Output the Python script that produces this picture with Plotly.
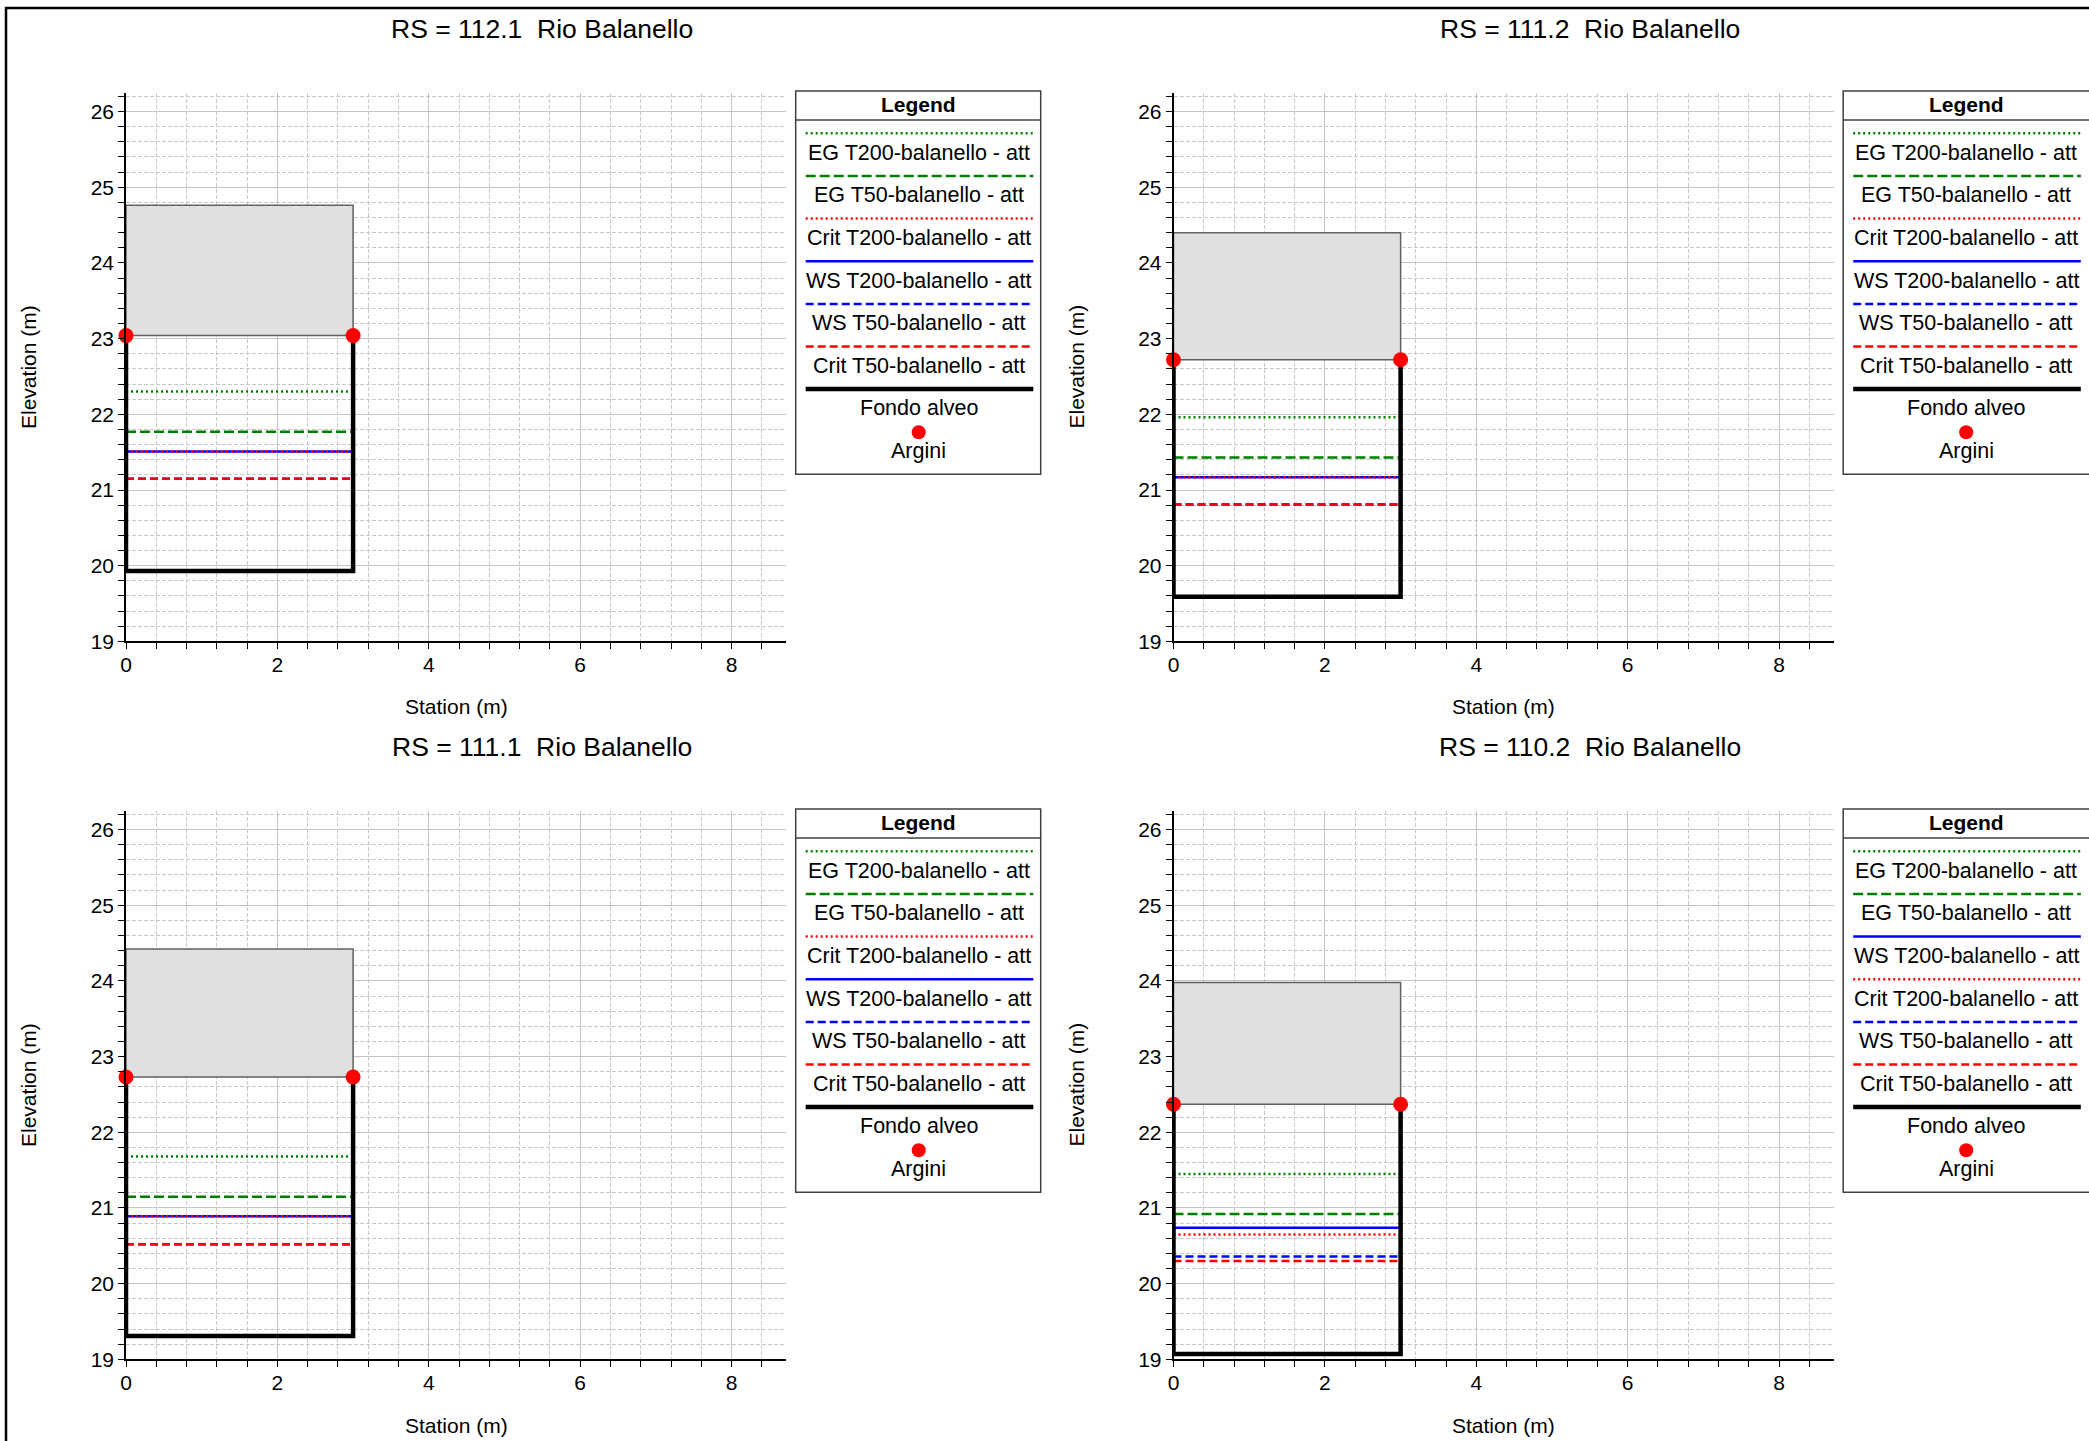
import plotly.graph_objects as go

W, H = 2089, 1441
FONT = "Liberation Sans, Arial, sans-serif"

# ---------------- data ----------------
sections = ["112.1", "111.2", "111.1", "110.2"]
river = "Rio Balanello"
station_left = [0, 0, 0, 0]
station_right = [3, 3, 3, 3]
bed = [19.93, 19.59, 19.31, 19.07]          # Fondo alveo
banks = [23.04, 22.72, 22.73, 22.37]        # Argini
deck_top = [24.76, 24.40, 24.42, 23.98]     # bridge deck top
eg_t200 = [22.30, 21.96, 21.68, 21.45]
eg_t50 = [21.77, 21.43, 21.15, 20.92]
crit_t200 = [21.51, 21.17, 20.89, 20.65]
ws_t200 = [21.51, 21.17, 20.89, 20.74]
ws_t50 = [21.15, 20.81, 20.52, 20.36]
crit_t50 = [21.15, 20.81, 20.52, 20.30]
x_range = [0, 8.72]
y_range = [19, 26.25]
x_label = "Station (m)"
y_label = "Elevation (m)"

profiles = {
    "EG T200-balanello - att": eg_t200,
    "EG T50-balanello - att": eg_t50,
    "WS T200-balanello - att": ws_t200,
    "Crit T200-balanello - att": crit_t200,
    "WS T50-balanello - att": ws_t50,
    "Crit T50-balanello - att": crit_t50,
}
legend_orders = [
    ["EG T200-balanello - att", "EG T50-balanello - att", "Crit T200-balanello - att",
     "WS T200-balanello - att", "WS T50-balanello - att", "Crit T50-balanello - att"],
] * 3 + [
    ["EG T200-balanello - att", "EG T50-balanello - att", "WS T200-balanello - att",
     "Crit T200-balanello - att", "WS T50-balanello - att", "Crit T50-balanello - att"],
]

# ---------------- styles ----------------
styles = {
    "EG T200-balanello - att": dict(color="#008000", dash="2px,3px", width=2.5),
    "EG T50-balanello - att": dict(color="#008000", dash="10px,4px", width=2.5),
    "WS T200-balanello - att": dict(color="#0000ff", dash="solid", width=2.5),
    "Crit T200-balanello - att": dict(color="#ff0000", dash="2px,3px", width=2.5),
    "WS T50-balanello - att": dict(color="#0000ff", dash="8px,4px", width=2.5),
    "Crit T50-balanello - att": dict(color="#ff0000", dash="8px,4px", width=2.5),
}

S = 75.7  # pixels per unit
panel_x0 = [126, 1173.5, 126, 1173.5]
panel_y19 = [641.4, 641.4, 1359.4, 1359.4]


def px(x):
    return x / W


def py(y):
    return 1 - y / H


fig = go.Figure()
shapes = []
annotations = []
layout = {}

for i in range(4):
    ax = "" if i == 0 else str(i + 1)
    xa, ya = "x" + ax, "y" + ax
    x0 = panel_x0[i]
    y19 = panel_y19[i]
    xl, xr = station_left[i], station_right[i]

    layout["xaxis" + ax] = dict(
        domain=[px(x0), px(x0 + (x_range[1] - x_range[0]) * S)],
        range=x_range, anchor=ya, tick0=0, dtick=2, automargin=False,
        ticks="outside", ticklen=6, tickwidth=1, tickcolor="black",
        showline=True, linecolor="black", linewidth=1.5,
        showgrid=True, gridcolor="#c4c4c4", gridwidth=1, zeroline=False,
        tickfont=dict(size=21, color="black", family=FONT),
        ticklabelstandoff=-2,
        minor=dict(dtick=0.4, tick0=0, ticks="outside", ticklen=6, tickcolor="black",
                   showgrid=True, gridcolor="#c8c8c8", griddash="4px,2px", gridwidth=1),
        fixedrange=True,
    )
    layout["yaxis" + ax] = dict(
        domain=[py(y19), py(y19 - (y_range[1] - y_range[0]) * S)],
        range=y_range, anchor=xa, tick0=19, dtick=1, automargin=False,
        ticks="outside", ticklen=6, tickwidth=1, tickcolor="black",
        showline=True, linecolor="black", linewidth=1.5,
        showgrid=True, gridcolor="#c4c4c4", gridwidth=1, zeroline=False,
        tickfont=dict(size=21, color="black", family=FONT),
        minor=dict(dtick=0.2, tick0=19, ticks="outside", ticklen=6, tickcolor="black",
                   showgrid=True, gridcolor="#c8c8c8", griddash="4px,2px", gridwidth=1),
        fixedrange=True,
    )

    # bridge deck
    fig.add_trace(go.Scatter(
        x=[xl, xr, xr, xl, xl], y=[banks[i], banks[i], deck_top[i], deck_top[i], banks[i]],
        mode="lines", fill="toself", fillcolor="#e0e0e0",
        line=dict(color="#606060", width=1.5), xaxis=xa, yaxis=ya,
        showlegend=False, hoverinfo="skip", cliponaxis=False))

    # water surfaces
    for name, vals in profiles.items():
        st = styles[name]
        fig.add_trace(go.Scatter(
            x=[xl, xr], y=[vals[i], vals[i]], mode="lines", name=name,
            line=dict(color=st["color"], dash=st["dash"], width=st["width"]),
            xaxis=xa, yaxis=ya, showlegend=False, cliponaxis=False))

    # channel bed
    fig.add_trace(go.Scatter(
        x=[xl, xl, xr, xr], y=[banks[i], bed[i], bed[i], banks[i]], mode="lines",
        name="Fondo alveo", line=dict(color="black", width=4.5),
        xaxis=xa, yaxis=ya, showlegend=False, cliponaxis=False))

    # banks
    fig.add_trace(go.Scatter(
        x=[xl, xr], y=[banks[i], banks[i]], mode="markers", name="Argini",
        marker=dict(color="#ff0000", size=15), xaxis=xa, yaxis=ya,
        showlegend=False, cliponaxis=False))

    # titles
    col, row = i % 2, i // 2
    annotations.append(dict(
        x=px(542 + col * 1047.5), y=py(29 + row * 718.3), xref="paper", yref="paper",
        text=f"RS = {sections[i]}  {river}", showarrow=False,
        xanchor="center", yanchor="middle", font=dict(size=26.5, color="black", family=FONT)))
    annotations.append(dict(
        x=px(x0 + (x_range[1] - x_range[0]) * S / 2), y=py(y19 + 65.6), xref="paper", yref="paper",
        text=x_label, showarrow=False, xanchor="center", yanchor="middle",
        font=dict(size=21, color="black", family=FONT)))
    annotations.append(dict(
        x=px(x0 - 97), y=py(y19 - (y_range[1] - y_range[0]) * S / 2), xref="paper", yref="paper",
        text=y_label, showarrow=False, xanchor="center", yanchor="middle", textangle=-90,
        font=dict(size=21, color="black", family=FONT)))

    # custom legend box
    L = x0 + 669.7
    T = y19 - 550.4
    Wd = 245 if col == 0 else 250
    shapes.append(dict(type="rect", xref="paper", yref="paper",
                       x0=px(L), x1=px(L + Wd), y0=py(T), y1=py(T + 383.3),
                       line=dict(color="#404040", width=1.5), fillcolor="white", layer="above"))
    shapes.append(dict(type="line", xref="paper", yref="paper",
                       x0=px(L), x1=px(L + Wd), y0=py(T + 29), y1=py(T + 29),
                       line=dict(color="#404040", width=1.5), layer="above"))
    cx = L + 123
    annotations.append(dict(x=px(cx), y=py(T + 13.5), xref="paper", yref="paper",
                            text="<b>Legend</b>", showarrow=False, xanchor="center", yanchor="middle",
                            font=dict(size=21, color="black", family=FONT)))
    for k, name in enumerate(legend_orders[i]):
        st = styles[name]
        ly = T + 42.3 + 42.65 * k
        shapes.append(dict(type="line", xref="paper", yref="paper",
                           x0=px(L + 10), x1=px(L + 237.6), y0=py(ly), y1=py(ly),
                           line=dict(color=st["color"], dash=st["dash"], width=st["width"]),
                           layer="above"))
        annotations.append(dict(x=px(cx), y=py(ly + 19.3), xref="paper", yref="paper",
                                text=name, showarrow=False, xanchor="center", yanchor="middle",
                                font=dict(size=21.5, color="black", family=FONT)))
    ly = T + 298
    shapes.append(dict(type="line", xref="paper", yref="paper",
                       x0=px(L + 10), x1=px(L + 237.6), y0=py(ly), y1=py(ly),
                       line=dict(color="black", width=4.5), layer="above"))
    annotations.append(dict(x=px(cx), y=py(T + 316.7), xref="paper", yref="paper",
                            text="Fondo alveo", showarrow=False, xanchor="center", yanchor="middle",
                            font=dict(size=21.5, color="black", family=FONT)))
    r = 7
    shapes.append(dict(type="circle", xref="paper", yref="paper",
                       x0=px(cx - r), x1=px(cx + r), y0=py(T + 341.3 - r), y1=py(T + 341.3 + r),
                       line=dict(color="#ff0000", width=0), fillcolor="#ff0000", layer="above"))
    annotations.append(dict(x=px(cx), y=py(T + 359.7), xref="paper", yref="paper",
                            text="Argini", showarrow=False, xanchor="center", yanchor="middle",
                            font=dict(size=21.5, color="black", family=FONT)))

# outer frame
shapes.append(dict(type="rect", xref="paper", yref="paper",
                   x0=px(6), x1=px(W + 20), y0=py(8), y1=py(H + 20),
                   line=dict(color="black", width=2.5), layer="above"))

fig.update_layout(
    width=W, height=H, autosize=False,
    margin=dict(l=0, r=0, t=0, b=0, pad=0, autoexpand=False),
    paper_bgcolor="white", plot_bgcolor="white",
    font=dict(family=FONT, color="black", size=20),
    shapes=shapes, annotations=annotations, showlegend=False,
    **layout,
)

fig.write_html("out.html", include_plotlyjs=True,
               config={"displayModeBar": False},
               post_script="document.body.style.margin='0';document.body.style.overflow='hidden';")
